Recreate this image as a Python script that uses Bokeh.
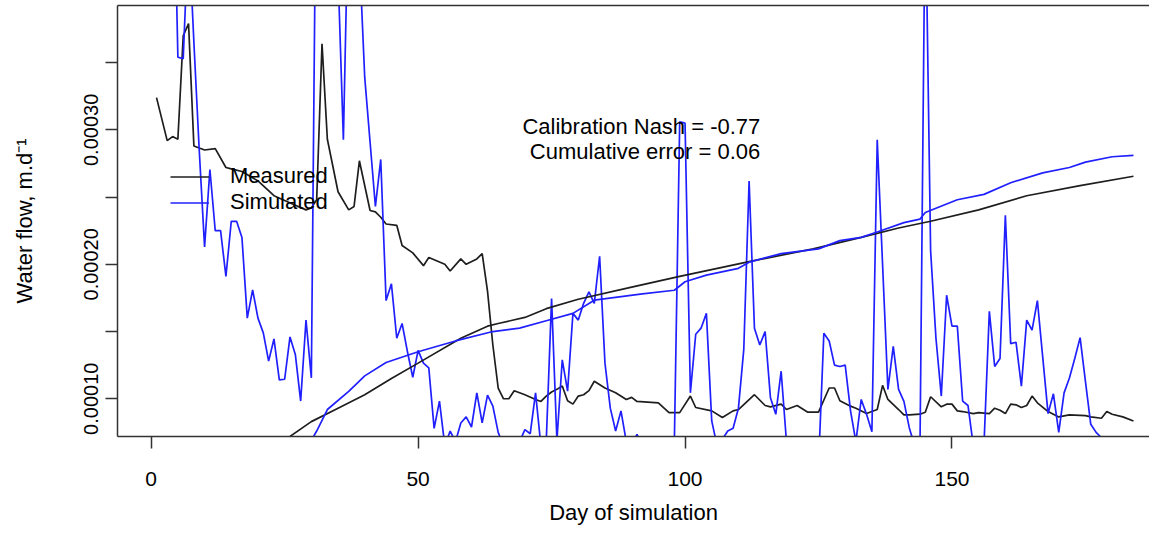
import numpy as np
from bokeh.plotting import figure
from bokeh.models import Range1d, FixedTicker, LinearAxis, Label, Legend, LegendItem
from bokeh.embed import file_html
from bokeh.resources import INLINE

SCALE = 1e-5  # all flow values below are in units of 1e-5 m/d

measured_days = [1, 3, 4, 5, 6, 7, 8, 10, 12, 14, 15, 17, 20, 23, 27, 29, 30, 31, 32, 33,
                 35, 37, 38, 39, 41, 42, 43, 44, 46, 47, 49, 51, 52, 55, 56, 58, 59, 61, 62, 63,
                 64, 65, 66, 67, 68, 70, 72, 73, 74, 75, 76, 77, 78, 79, 80, 81, 82, 83, 85, 87,
                 89, 90, 91, 95, 97, 99, 101, 102, 105, 107, 109, 110, 113, 115, 116, 118, 119, 121, 123, 125,
                 127, 128, 129, 131, 132, 134, 136, 137, 138, 140, 141, 142, 144, 145, 146, 148, 149, 150, 151, 152,
                 154, 155, 157, 158, 159, 160, 161, 162, 163, 164, 165, 166, 168, 170, 172, 175, 176, 178, 179, 180,
                 182, 184]
measured_flow = [32.4, 29.2, 29.5, 29.3, 37.0, 37.9, 28.8, 28.5, 28.6, 27.2, 27.1, 26.9, 26.2, 25.1, 24.4, 24.05, 24.2, 24.8, 36.4, 29.3,
                 25.4, 24.05, 24.3, 27.7, 24.0, 23.9, 23.5, 23.0, 22.9, 21.4, 20.85, 19.9, 20.5, 20.0, 19.5, 20.4, 20.0, 20.4, 20.8, 18.0,
                 14.0, 10.8, 10.0, 10.0, 10.6, 10.3, 9.95, 9.8, 10.2, 10.5, 10.7, 10.95, 9.85, 9.6, 10.2, 10.3, 10.6, 11.3, 10.8, 10.45,
                 9.95, 10.1, 9.8, 9.7, 8.97, 8.97, 10.2, 9.35, 9.1, 8.6, 9.1, 9.2, 10.3, 9.5, 9.4, 9.6, 9.2, 9.5, 9.0, 9.0,
                 10.8, 10.8, 9.85, 9.45, 9.3, 8.9, 9.2, 11.0, 9.95, 9.2, 8.8, 8.8, 8.85, 9.0, 10.15, 9.4, 9.6, 9.6, 9.1, 9.05,
                 8.9, 8.97, 8.9, 9.3, 9.15, 8.9, 9.6, 9.55, 9.35, 9.5, 10.2, 9.7, 9.05, 8.65, 8.8, 8.75, 8.65, 8.55, 9.05, 8.85,
                 8.65, 8.35]

simulated_days = list(range(1, 185))
simulated_flow = [60, 58, 56, 54, 35.4, 35.3, 45, 36.5, 28.5, 21.3,
                  27.05, 22.5, 22.5, 19.1, 23.2, 23.2, 22.0, 16.0, 18.1, 16.0,
                  14.9, 12.8, 14.45, 11.4, 11.45, 14.6, 13.3, 9.83, 15.85, 11.55,
                  55, 60, 55, 50, 41.7, 29.26, 48, 50, 43, 33.9,
                  29.1, 24.3, 27.8, 17.3, 18.55, 14.5, 15.6, 13.5, 11.6, 13.6,
                  12.65, 12.3, 7.8, 9.83, 6.5, 7.6, 6.8, 8.2, 8.65, 7.9,
                  10.44, 8.2, 10.27, 9.45, 7.5, 6.5, 6.2, 6.5, 6.8, 7.7,
                  7.4, 10.44, 6.5, 6.8, 17.45, 6.9, 12.9, 10.57, 16.35, 15.85,
                  17.1, 17.95, 17.1, 20.6, 12.65, 9.3, 7.6, 9.1, 6.8, 6.6,
                  7.35, 6.5, 6.3, 6.0, 5.8, 6.1, 6.4, 6.8, 30.6, 30.5,
                  10.44, 14.8, 15.25, 16.35, 8.35, 6.5, 7.0, 7.6, 7.8, 9.3,
                  13.65, 26.2, 15.25, 14.0, 15.0, 10.07, 8.84, 12.05, 6.8, 6.2,
                  5.9, 5.7, 6.0, 6.3, 5.0, 14.87, 14.3, 12.5, 12.4, 12.5,
                  9.1, 6.8, 9.95, 8.84, 7.55, 29.26, 20.0, 10.7, 13.9, 10.7,
                  9.8, 7.85, 6.5, 6.0, 48.0, 21.0, 14.5, 10.2, 17.7, 15.4,
                  15.4, 9.83, 9.5, 6.5, 6.3, 6.6, 16.5, 12.4, 13.0, 23.65,
                  14.1, 14.2, 10.94, 15.85, 15.1, 17.3, 13.1, 8.9, 10.37, 7.5,
                  10.44, 11.55, 13.0, 14.55, 11.3, 8.1, 7.5, 7.1, 6.8, 6.5,
                  6.3, 6.2, 6.0, 5.9]

cum_measured_days = [1, 10, 20, 26, 30, 35, 40, 45, 50, 58, 63, 65, 70, 74, 80, 90, 99, 112, 124, 133,
                     140, 146, 155, 164, 174, 184]
cum_measured = [0.3, 3.2, 5.8, 7.2, 8.3, 9.3, 10.3, 11.5, 12.65, 14.5, 15.4, 15.6, 16.05, 16.7, 17.4, 18.3, 19.1, 20.2, 21.15, 22.0,
                22.7, 23.2, 24.05, 25.1, 25.85, 26.55]

cum_simulated_days = [1, 15, 25, 30, 31, 33, 37, 40, 44, 50, 57, 64, 69, 74, 79, 83, 92, 98, 100, 104,
                      110, 112, 118, 125, 129, 133, 136, 141, 144, 145, 151, 156, 161, 167, 172, 175, 180, 184]
cum_simulated = [0.5, 3.5, 5.5, 6.9, 7.6, 9.2, 10.55, 11.7, 12.7, 13.5, 14.3, 15.0, 15.25, 15.8, 16.35, 17.33, 17.8, 18.07, 18.7, 19.2,
                 19.7, 20.16, 20.8, 21.15, 21.76, 22.0, 22.4, 23.1, 23.36, 23.85, 24.8, 25.2, 26.07, 26.8, 27.2, 27.6, 28.0, 28.1]

x_ticks = [0, 50, 100, 150]
y_ticks = [0.00010, 0.00015, 0.00020, 0.00025, 0.00030, 0.00035]
y_tick_labels = ["0.00010", "", "0.00020", "", "0.00030", ""]
series_names = ["Measured", "Simulated"]
nash_text = "Calibration Nash = -0.77"
error_text = "Cumulative error = 0.06"

FONT = "Liberation Sans"
BLACK = "#1e1e1e"
BLUE = "#2020ff"
AXIS = "#333333"

p = figure(width=1149, height=527, output_backend="svg", toolbar_location=None,
           x_range=Range1d(-6.31, 187.0), y_range=Range1d(7.193e-5, 39.25e-5),
           min_border_left=117, min_border_right=0, min_border_top=5, min_border_bottom=88,
           background_fill_color="white", border_fill_color="white")
p.outline_line_color = None
p.grid.grid_line_color = None

def sc(a):
    return np.asarray(a, dtype=float) * SCALE

LW = 1.7
r_meas = p.line(measured_days, sc(measured_flow), line_color=BLACK, line_width=LW)
r_sim = p.line(simulated_days, sc(simulated_flow), line_color=BLUE, line_width=LW)
p.line(cum_measured_days, sc(cum_measured), line_color=BLACK, line_width=LW)
p.line(cum_simulated_days, sc(cum_simulated), line_color=BLUE, line_width=LW)

# x axis
xa = p.xaxis[0]
xa.ticker = FixedTicker(ticks=x_ticks)
xa.major_tick_out = 12
xa.major_tick_in = 0
xa.minor_tick_line_color = None
xa.axis_line_color = AXIS
xa.axis_line_width = 1.5
xa.major_tick_line_color = AXIS
xa.major_tick_line_width = 1.5
xa.major_label_text_font = FONT
xa.major_label_text_font_size = "21px"
xa.major_label_text_color = "black"
xa.major_label_standoff = 23
xa.axis_label = "Day of simulation"
xa.axis_label_text_font = FONT
xa.axis_label_text_font_size = "22px"
xa.axis_label_text_font_style = "normal"
xa.axis_label_text_color = "black"
xa.axis_label_standoff = 11

# y axis
ya = p.yaxis[0]
ya.ticker = FixedTicker(ticks=y_ticks)
ya.major_label_overrides = dict(zip(y_ticks, y_tick_labels))
ya.major_label_orientation = "vertical"
ya.major_tick_out = 12
ya.major_tick_in = 0
ya.minor_tick_line_color = None
ya.axis_line_color = AXIS
ya.axis_line_width = 1.5
ya.major_tick_line_color = AXIS
ya.major_tick_line_width = 1.5
ya.major_label_text_font = FONT
ya.major_label_text_font_size = "20px"
ya.major_label_text_color = "black"
ya.major_label_standoff = 7
ya.axis_label = "Water flow, m.d\u207b\u00b9"
ya.axis_label_text_font = FONT
ya.axis_label_text_font_size = "22px"
ya.axis_label_text_font_style = "normal"
ya.axis_label_text_color = "black"
ya.axis_label_standoff = 45

# top frame line
top = LinearAxis(ticker=FixedTicker(ticks=[]), axis_line_color=AXIS, axis_line_width=1.5,
                 major_tick_out=0, major_tick_in=0, minor_tick_out=0, minor_tick_in=0,
                 major_label_standoff=0, major_label_text_font_size="0px")
p.add_layout(top, "above")

legend = Legend(items=[LegendItem(label=series_names[0], renderers=[r_meas]),
                       LegendItem(label=series_names[1], renderers=[r_sim])],
                location=(53, 221), orientation="vertical",
                background_fill_alpha=0, border_line_alpha=0,
                padding=0, margin=0, spacing=0,
                glyph_width=39, glyph_height=25, label_height=25, label_standoff=21,
                label_text_font=FONT, label_text_font_size="22px", label_text_color="black")
p.add_layout(legend)

p.add_layout(Label(x=114.1, y=30.24e-5, text=nash_text, text_align="right", text_baseline="middle",
                   text_font=FONT, text_font_size="22px", text_color="black"))
p.add_layout(Label(x=114.1, y=28.39e-5, text=error_text, text_align="right", text_baseline="middle",
                   text_font=FONT, text_font_size="22px", text_color="black"))

open("out.html", "w").write(file_html(p, INLINE))
